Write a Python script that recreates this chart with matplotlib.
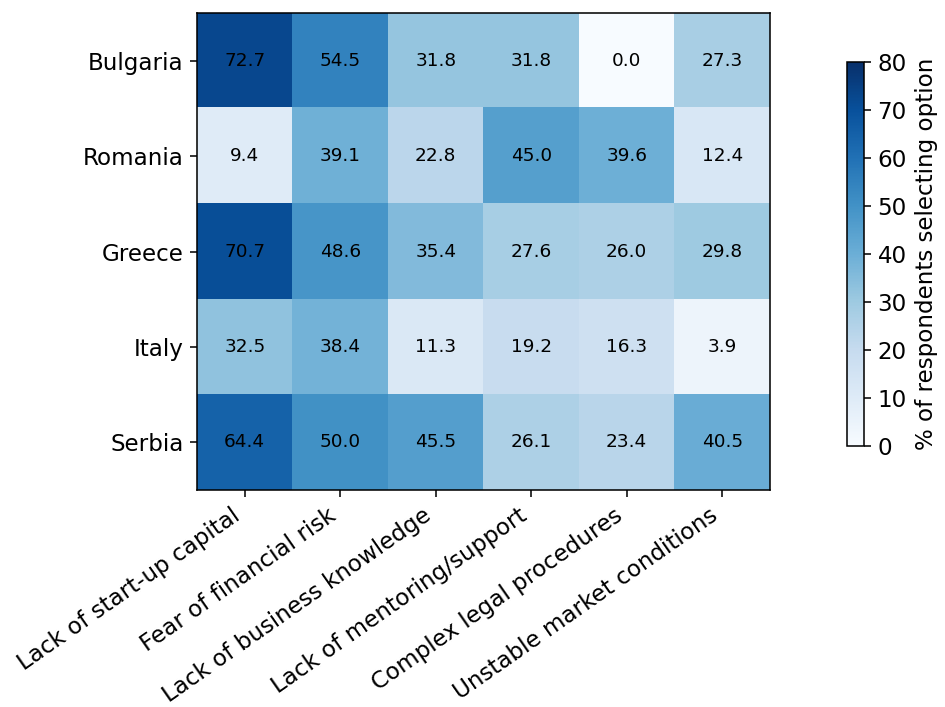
import matplotlib
matplotlib.use("Agg")
import matplotlib.pyplot as plt
import numpy as np

countries = ["Bulgaria", "Romania", "Greece", "Italy", "Serbia"]
barriers = ["Lack of start-up capital", "Fear of financial risk", "Lack of business knowledge",
            "Lack of mentoring/support", "Complex legal procedures", "Unstable market conditions"]
bulgaria = [72.7, 54.5, 31.8, 31.8, 0.0, 27.3]
romania = [9.4, 39.1, 22.8, 45.0, 39.6, 12.4]
greece = [70.7, 48.6, 35.4, 27.6, 26.0, 29.8]
italy = [32.5, 38.4, 11.3, 19.2, 16.3, 3.9]
serbia = [64.4, 50.0, 45.5, 26.1, 23.4, 40.5]

data = np.array([bulgaria, romania, greece, italy, serbia])

DPI = 140
fig = plt.figure(figsize=(945 / DPI, 707 / DPI), dpi=DPI)
ax = fig.add_axes([0.2085, 0.3069, 0.6063, 0.6747])
im = ax.imshow(data, cmap="Blues", vmin=0, vmax=80, aspect="auto")
ax.set_xticks(range(len(barriers)))
ax.set_xticklabels(barriers, rotation=35, ha="right", fontsize=11.8)
ax.set_yticks(range(len(countries)))
ax.set_yticklabels(countries, fontsize=11.8)
for i in range(data.shape[0]):
    for j in range(data.shape[1]):
        ax.text(j, i, f"{data[i, j]:.1f}", ha="center", va="center", fontsize=9.5, color="black")

cax = fig.add_axes([0.8963, 0.3692, 0.018, 0.5431])
cb = fig.colorbar(im, cax=cax)
cb.set_label("% of respondents selecting option", fontsize=11.8)
cb.ax.tick_params(labelsize=11.8)

fig.savefig("out.png", dpi=DPI)
